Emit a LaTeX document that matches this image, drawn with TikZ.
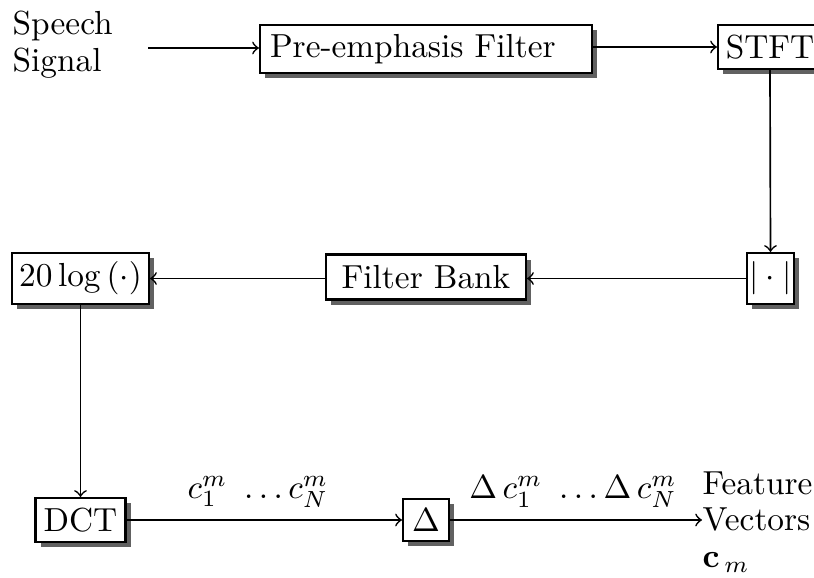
\documentclass[tikz,border=0pt]{standalone}
\usetikzlibrary{shadows}
\begin{document}
\begin{tikzpicture}[x=0.3pt,y=-0.3pt,
  blk/.style={draw, line width=0.65pt, fill=white, inner sep=0pt,
    font=\fontsize{10}{11}\selectfont,
    drop shadow={shadow xshift=1.6pt, shadow yshift=-1.6pt, fill=black!62, opacity=1}},
  lbl/.style={inner sep=0pt, font=\fontsize{10}{11}\selectfont, align=left},
  conn/.style={->, line width=0.5pt}]
\useasboundingbox (0,0) rectangle (814,578);

% blocks
\node[blk, minimum width=99.6pt, minimum height=14.4pt, text width=93.6pt, align=left] (pre) at (426,49) {Pre-emphasis Filter};
\node[blk, minimum width=31.2pt, minimum height=13.2pt] (stft) at (770,47) {STFT};
\node[blk, minimum width=14.1pt, minimum height=15.3pt] (abs) at (770.5,278.5) {$|\cdot|$};
\node[blk, minimum width=60pt, minimum height=13.5pt] (fb) at (426,277) {Filter Bank};
\node[blk, minimum width=41.1pt, minimum height=15.3pt] (log) at (80.5,278.5) {$20\log\left(\cdot\right)$};
\node[blk, minimum width=27pt, minimum height=13.2pt] (dct) at (80.5,520) {DCT};
\node[blk, minimum width=13.8pt, minimum height=12.6pt] (dlt) at (426,520) {$\Delta$};

% texts
\node[lbl, anchor=west] (speech) at (12,45) {Speech\\Signal};
\node[lbl, anchor=west] (out) at (702,522) {Feature\\Vectors\\$\mathbf{c}_{\,m}$};
\node[lbl] (cl) at (258,492) {$c_1^m\ \ldots c_N^m$};
\node[lbl] (dcl) at (573,492) {$\Delta\, c_1^m\ \ldots\Delta\, c_N^m$};
\coordinate (src) at (148,48);

% connectors
\draw[conn] (src) -- (src -| pre.west);
\draw[conn] (pre.east |- stft.west) -- (stft.west);
\draw[conn] (stft.south) -- (abs.north);
\draw[conn] (abs.west) -- (abs.west -| fb.east);
\draw[conn] (fb.west |- log.east) -- (log.east);
\draw[conn] (log.south) -- (dct.north);
\draw[conn] (dct.east) -- (dlt.west);
\draw[conn] (dlt.east) -- (dlt.east -| out.west);
\end{tikzpicture}
\end{document}
